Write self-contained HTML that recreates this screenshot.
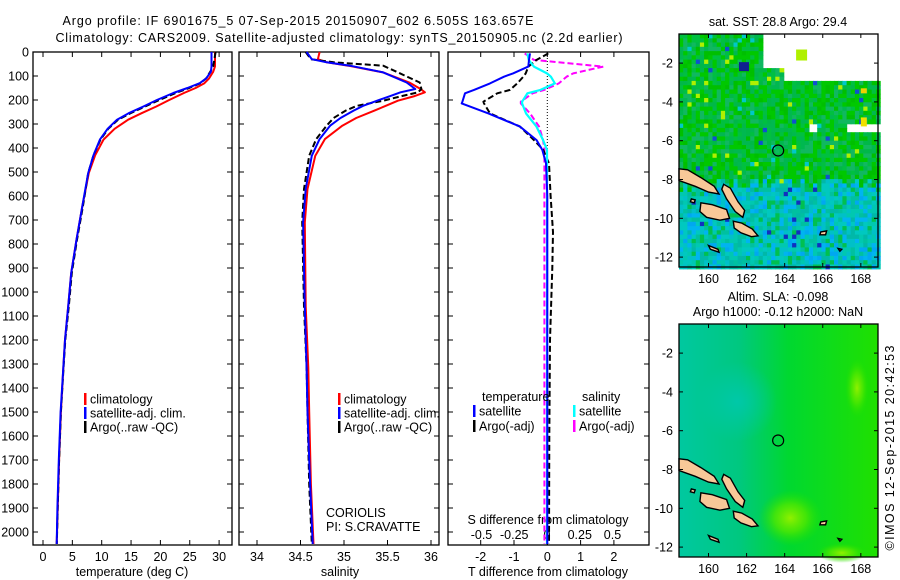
<!DOCTYPE html>
<html><head><meta charset="utf-8">
<style>
html,body{margin:0;padding:0;background:#fff;}
svg{display:block;font-family:"Liberation Sans",sans-serif;}
text{font-size:12.5px;fill:#000;}
</style></head>
<body>
<svg id="fig" width="900" height="580" viewBox="0 0 900 580">
<text x="298" y="25" text-anchor="middle" textLength="471">Argo profile: IF 6901675_5 07-Sep-2015 20150907_602 6.505S 163.657E</text>
<text x="339" y="42" text-anchor="middle" textLength="567">Climatology: CARS2009. Satellite-adjusted climatology: synTS_20150905.nc (2.2d earlier)</text>
<g id="p1"></g>
<g id="p2"></g>
<g id="p3"></g>
<g id="m1"></g>
<g id="m2"></g>
<text x="0" y="0" text-anchor="middle" font-size="13" textLength="205" transform="translate(894,448) rotate(-90)">©IMOS 12-Sep-2015 20:42:53</text>
</svg>
<script>
// ---------- data ----------
const tDepth   = [0, 60, 82, 110, 130, 150, 171, 200, 227, 255, 282, 320, 365, 430, 504, 643, 782, 921, 1060, 1199, 1317, 1500, 1700, 1900, 2050];
const tClim    = [29.3, 29.3, 29.0, 28.3, 27.5, 26.0, 24.0, 21.5, 19.3, 16.8, 14.5, 12.2, 10.3, 8.9, 7.8, 6.7, 5.7, 4.8, 4.3, 3.75, 3.46, 3.05, 2.75, 2.5, 2.33];
const tSat     = [28.7, 28.7, 28.6, 27.8, 26.7, 24.6, 22.2, 19.4, 17.1, 14.6, 12.6, 11.0, 9.7, 8.6, 7.7, 6.7, 5.7, 4.8, 4.3, 3.75, 3.46, 3.0, 2.7, 2.45, 2.33];
const tArgo    = [29.4, 29.0, 28.5, 27.8, 26.8, 24.9, 22.6, 19.8, 17.4, 14.9, 12.8, 11.1, 9.8, 8.6, 7.7, 6.8, 5.8, 4.9, 4.4, 3.8, 3.5, 3.05, 2.75, 2.5, 2.35];
const sDepth   = [0, 30, 43, 57, 85, 127, 154, 168, 185, 203, 224, 244, 275, 307, 363, 432, 571, 710, 1060, 1317, 1500, 1800, 2050];
const sClim    = [34.72, 34.70, 34.80, 35.05, 35.45, 35.75, 35.88, 35.93, 35.80, 35.62, 35.48, 35.35, 35.14, 34.98, 34.78, 34.67, 34.58, 34.55, 34.56, 34.59, 34.60, 34.62, 34.65];
const sSat     = [34.57, 34.63, 34.80, 35.07, 35.45, 35.72, 35.82, 35.65, 35.52, 35.38, 35.22, 35.11, 34.96, 34.84, 34.72, 34.63, 34.56, 34.53, 34.55, 34.57, 34.58, 34.61, 34.64];
const sArgo    = [34.56, 34.62, 34.88, 35.45, 35.62, 35.87, 35.89, 35.85, 35.65, 35.45, 35.15, 35.02, 34.88, 34.80, 34.68, 34.60, 34.54, 34.52, 34.54, 34.57, 34.58, 34.60, 34.63];
const dDepth   = [6, 33, 61, 89, 103, 131, 158, 172, 207, 214, 256, 311, 367, 408, 464, 600, 750, 900, 1200, 1600, 2050];
const dTSat    = [-0.52, -0.55, -0.57, -1.03, -1.3, -1.72, -2.2, -2.47, -2.55, -2.57, -1.77, -0.82, -0.32, -0.15, -0.04, 0.0, 0.0, 0.0, 0.0, 0.0, 0.0];
const dTArgo   = [0.03, -0.32, -0.57, -0.65, -0.72, -0.9, -1.12, -1.5, -1.92, -1.9, -1.72, -0.82, -0.4, -0.12, 0.05, 0.1, 0.17, 0.15, 0.08, 0.06, 0.05];
const dSSat    = [-0.15, -0.14, -0.1, 0.0, 0.03, 0.06, -0.05, -0.15, -0.19, -0.19, -0.16, -0.08, -0.03, 0.0, 0.0, 0.0, 0.0, 0.0, 0.0, 0.0, 0.0];
const dSArgo   = [-0.17, -0.1, 0.43, 0.2, 0.15, 0.09, -0.02, -0.11, -0.2, -0.2, -0.13, -0.06, -0.03, -0.02, -0.02, -0.02, -0.02, -0.02, -0.02, -0.02, -0.02];
const depthTicks = [0,100,200,300,400,500,600,700,800,900,1000,1100,1200,1300,1400,1500,1600,1700,1800,1900,2000];
const tTicks   = [0,5,10,15,20,25,30];
const sTicks   = [34,34.5,35,35.5,36];
const sTickLabels = ['34','34.5','35','35.5','36'];
const dTTicks  = [-2,-1,0,1,2];
const dSTicks  = [-0.5,-0.25,0,0.25,0.5];
const dSTickLabels = ['-0.5','-0.25','0','0.25','0.5'];
const lonTicks = [160,162,164,166,168];
const latTicks = [-2,-4,-6,-8,-10,-12];
const argoLon = 163.657, argoLat = -6.505;

const NS='http://www.w3.org/2000/svg';
function el(tag, attrs, parent){const e=document.createElementNS(NS,tag);for(const k in attrs)e.setAttribute(k,attrs[k]);if(parent)parent.appendChild(e);return e;}
const Y0=52, PB=545;
const yD = d => Y0 + d*0.24;
const xT = t => 43 + t*5.87;
const xS = s => 257 + (s-34)*87;
const xDT = v => 547.3 + v*33.3;
const xDS = v => 547 + v*131;

function frame(g, x0, x1, name){
  const r=el('rect',{x:x0,y:Y0,width:x1-x0,height:PB-Y0,fill:'none',stroke:'#000','stroke-width':1.3},g);
  
  
  depthTicks.forEach(d=>{
    el('line',{x1:x0,x2:x0+5,y1:yD(d),y2:yD(d),stroke:'#000'},g);
    el('line',{x1:x1-5,x2:x1,y1:yD(d),y2:yD(d),stroke:'#000'},g);
  });
}
function poly(g, xs, ds, fx, color, dash, w, name){
  const pts = xs.map((v,i)=>fx(v).toFixed(1)+','+yD(ds[i]).toFixed(1)).join(' ');
  const p=el('polyline',{points:pts,fill:'none',stroke:color,'stroke-width':w||2,'stroke-linejoin':'round'},g);
  if(dash) p.setAttribute('stroke-dasharray',dash);
  
  
}
function txt(g, x, y, s, anchor, name, size){
  const t=el('text',{x:x,y:y,'text-anchor':anchor||'start'},g);
  if(size) t.setAttribute('font-size', size);
  t.textContent=s;
  
  
  return t;
}
function xticks(g, vals, labels, fx, name){
  vals.forEach((v,i)=>{
    const x=fx(v);
    el('line',{x1:x,x2:x,y1:PB-5,y2:PB,stroke:'#000'},g);
    el('line',{x1:x,x2:x,y1:Y0,y2:Y0+5,stroke:'#000'},g);
    txt(g, x, 561, labels[i], 'middle', name);
  });
}
function legend(g, x, y, color, label, name){
  const m=el('rect',{x:x,y:y-6,width:2.5,height:12,fill:color},g);
  
  
  txt(g, x+6, y+4.5, label, 'start', name);
}

// Panel 1
const p1=document.getElementById('p1');
frame(p1,33,232,'temperature-axes');
depthTicks.forEach(d=>txt(p1,29,yD(d)+4.5,String(d),'end','depth-tick-label'));
xticks(p1,tTicks,tTicks.map(String),xT,'temperature-tick-label');
poly(p1,tClim,tDepth,xT,'#ff0000',null,2,'temperature-climatology-line');
poly(p1,tArgo,tDepth,xT,'#000','6,3',2,'temperature-argo-line');
poly(p1,tSat,tDepth,xT,'#0000ff',null,2,'temperature-satellite-line');
txt(p1,132,576,'temperature (deg C)','middle','temperature-axis-title');
legend(p1,84,399,'#ff0000','climatology','legend-climatology');
legend(p1,84,413,'#0000ff','satellite-adj. clim.','legend-satellite');
legend(p1,84,427,'#000','Argo(..raw -QC)','legend-argo');

// Panel 2
const p2=document.getElementById('p2');
frame(p2,239,439,'salinity-axes');
xticks(p2,sTicks,sTickLabels,xS,'salinity-tick-label');
poly(p2,sClim,sDepth,xS,'#ff0000',null,2,'salinity-climatology-line');
poly(p2,sArgo,sDepth,xS,'#000','6,3',2,'salinity-argo-line');
poly(p2,sSat,sDepth,xS,'#0000ff',null,2,'salinity-satellite-line');
txt(p2,340,576,'salinity','middle','salinity-axis-title');
legend(p2,338,399,'#ff0000','climatology','legend-climatology-2');
legend(p2,338,413,'#0000ff','satellite-adj. clim.','legend-satellite-2');
legend(p2,338,427,'#000','Argo(..raw -QC)','legend-argo-2');
txt(p2,326,517,'CORIOLIS','start','data-centre-label');
txt(p2,326,531,'PI: S.CRAVATTE','start','pi-label');

// Panel 3
const p3=document.getElementById('p3');
frame(p3,448,649,'difference-axes');
xticks(p3,dTTicks,dTTicks.map(String),xDT,'t-difference-tick-label');
dSTicks.forEach((v,i)=>txt(p3,xDS(v),539,dSTickLabels[i],'middle','s-difference-tick-label'));
txt(p3,548,524,'S difference from climatology','middle','s-difference-axis-title');
txt(p3,548,576,'T difference from climatology','middle','t-difference-axis-title');
const zl=el('line',{x1:xDT(0),x2:xDT(0),y1:Y0,y2:PB,stroke:'#000','stroke-dasharray':'1,2'},p3);


poly(p3,dSArgo,dDepth,xDS,'#ff00ff','6,3',2,'s-argo-difference-line');
poly(p3,dTArgo,dDepth,xDT,'#000','6,3',2,'t-argo-difference-line');
poly(p3,dSSat,dDepth,xDS,'#00ffff',null,2.2,'s-satellite-difference-line');
poly(p3,dTSat,dDepth,xDT,'#0000ff',null,2,'t-satellite-difference-line');
txt(p3,482,401,'temperature','start','legend-temperature-heading');
txt(p3,582,401,'salinity','start','legend-salinity-heading');
legend(p3,473,411,'#0000ff','satellite','legend-t-satellite');
legend(p3,473,426,'#000','Argo(-adj)','legend-t-argo');
legend(p3,573,411,'#00ffff','satellite','legend-s-satellite');
legend(p3,573,426,'#ff00ff','Argo(-adj)','legend-s-argo');

// ---------- maps ----------
const LON0=158.45, LON1=168.8, LAT0=-0.5, LAT1=-12.5;
function mkMap(g, top){
  const bot = top + 233;
  const X = lon => 679 + (lon-LON0)*19.04;
  const Y = lat => top + (LAT0-lat)*19.4;
  return {X,Y,top,bot};
}
function hash(i,j,s){let h=(i*374761393+j*668265263+s*97)|0;h=(h^(h>>>13))*1274126177;h=h^(h>>>16);return ((h>>>0)%1000)/1000;}
const islands = [
  [[158.45,-7.45],[158.9,-7.5],[159.6,-7.9],[160.3,-8.35],[160.55,-8.75],[160.0,-8.65],[159.3,-8.35],[158.45,-8.05]],
  [[160.8,-8.25],[161.15,-8.45],[161.55,-9.15],[161.9,-9.6],[161.8,-9.95],[161.4,-9.65],[160.95,-9.0],[160.7,-8.5]],
  [[159.6,-9.2],[160.2,-9.3],[160.95,-9.55],[161.1,-10.0],[160.6,-10.1],[159.9,-9.95],[159.55,-9.65]],
  [[161.3,-10.15],[161.75,-10.25],[162.3,-10.55],[162.6,-10.9],[162.25,-10.95],[161.7,-10.75],[161.35,-10.5]],
  [[160.0,-11.4],[160.5,-11.6],[160.55,-11.75],[160.1,-11.6]],
  [[165.9,-10.7],[166.2,-10.65],[166.15,-10.85],[165.85,-10.85]],
  [[166.8,-11.55],[167.0,-11.6],[166.9,-11.7]],
  [[159.1,-9.0],[159.3,-9.05],[159.25,-9.2],[159.05,-9.15]]
];
function drawIslands(g,m){
  islands.forEach(poly=>{
    const p=el('polygon',{points:poly.map(q=>m.X(q[0]).toFixed(1)+','+m.Y(q[1]).toFixed(1)).join(' '),fill:'#f8c898',stroke:'#000','stroke-width':1.4},g);
    
    
  });
}
function mapAxes(g,m,name){
  const r=el('rect',{x:679,y:m.top,width:199,height:233,fill:'none',stroke:'#000','stroke-width':1.3},g);
  
  
  lonTicks.forEach(l=>{const x=m.X(l);
    el('line',{x1:x,x2:x,y1:m.bot-4,y2:m.bot,stroke:'#000'},g);
    el('line',{x1:x,x2:x,y1:m.top,y2:m.top+4,stroke:'#000'},g);
    txt(g,x,m.bot+16,String(l),'middle','longitude-tick-label');});
  latTicks.forEach(l=>{const y=m.Y(l);
    el('line',{x1:679,x2:683,y1:y,y2:y,stroke:'#000'},g);
    el('line',{x1:874,x2:878,y1:y,y2:y,stroke:'#000'},g);
    txt(g,673,y+4.5,String(l),'end','latitude-tick-label');});
  const c=el('circle',{cx:m.X(argoLon),cy:m.Y(argoLat),r:5.5,fill:'none',stroke:'#000','stroke-width':1.2},g);
  
  
}
// Map 1 (SST)
const m1g=document.getElementById('m1');
const m1=mkMap(m1g,34);
const step=0.22;
const greens=['#00c800','#00b850','#00c800','#10b860','#00c040','#00bf00','#00b848'];
const blues=['#00c8a0','#00c0c8','#00b4f0','#00c8b0','#00c8c0','#00b8a8','#00c0a0','#00a8f0'];
for(let i=0;i*step<LON1-LON0;i++){
  for(let j=0;j*step<LAT0-LAT1;j++){
    const lon=LON0+i*step, lat=LAT0-j*step;
    if((lat>-2.1&&lon>162.7)||(lat>-2.9&&lon>163.8&&!(lon>165.7&&lon<166.6&&lat>-1.2))||(lon>167.2&&lat>-5.5&&lat<-5.1)||(lon>165.2&&lon<165.6&&lat>-5.4&&lat<-5.1)) continue;
    const h=hash(i,j,1);
    let c;
    const edge=-7.8-0.8*hash(i,0,3)+ (lon-158.5)*0.02;
    if(lat>edge){ c=greens[Math.floor(h*greens.length)]; if(h>0.975)c='#b0f000'; else if(h>0.96)c='#00c8c8'; else if(h<0.008)c='#1050d0';}
    else { c=blues[Math.floor(h*blues.length)]; if(h<0.12)c='#00c050'; if(h>0.985)c='#1030c0';}
    el('rect',{x:m1.X(lon).toFixed(1),y:m1.Y(lat).toFixed(1),width:(step*19.04+0.6).toFixed(1),height:(step*19.4+0.6).toFixed(1),fill:c},m1g);
  }
}
el('rect',{x:m1.X(164.6),y:m1.Y(-1.3),width:11,height:11,fill:'#b0f000'},m1g);
el('rect',{x:m1.X(161.6),y:m1.Y(-1.95),width:10,height:9,fill:'#102090'},m1g);
el('rect',{x:m1.X(168.0),y:m1.Y(-3.3),width:6,height:5,fill:'#f0d000'},m1g);
el('rect',{x:m1.X(168.0),y:m1.Y(-4.8),width:6,height:9,fill:'#f0e000'},m1g);
drawIslands(m1g,m1);
mapAxes(m1g,m1,'sst-map-axes');
txt(m1g,778,26,'sat. SST: 28.8 Argo: 29.4','middle','sst-map-title');

// Map 2 (SLA)
const m2g=document.getElementById('m2');
const m2=mkMap(m2g,324);
const defs=el('defs',{},m2g);
const lg=el('linearGradient',{id:'slaG',x1:0,y1:0,x2:1,y2:0},defs);
el('stop',{offset:'0','stop-color':'#00c8a0'},lg);
el('stop',{offset:'0.3','stop-color':'#00c880'},lg);
el('stop',{offset:'0.55','stop-color':'#00d830'},lg);
el('stop',{offset:'1','stop-color':'#20e000'},lg);
const rg=el('radialGradient',{id:'blobG'},defs);
el('stop',{offset:'0','stop-color':'#90f000'},rg);
el('stop',{offset:'0.5','stop-color':'#50e800','stop-opacity':'0.8'},rg);
el('stop',{offset:'1','stop-color':'#20e000','stop-opacity':'0'},rg);
const rg2=el('radialGradient',{id:'tealG'},defs);
el('stop',{offset:'0','stop-color':'#00c8a8'},rg2);
el('stop',{offset:'1','stop-color':'#00c8a8','stop-opacity':'0'},rg2);
const bg=el('rect',{x:679,y:324,width:199,height:233,fill:'url(#slaG)'},m2g);


el('ellipse',{cx:m2.X(161.5),cy:m2.Y(-4.5),rx:40,ry:40,fill:'url(#tealG)'},m2g);
el('ellipse',{cx:m2.X(164.3),cy:m2.Y(-10.5),rx:32,ry:28,fill:'url(#blobG)'},m2g);
el('ellipse',{cx:m2.X(167.8),cy:m2.Y(-3.8),rx:12,ry:30,fill:'url(#blobG)'},m2g);
el('ellipse',{cx:m2.X(167),cy:m2.Y(-12.3),rx:25,ry:10,fill:'url(#blobG)'},m2g);
drawIslands(m2g,m2);
mapAxes(m2g,m2,'sla-map-axes');
txt(m2g,778,301,'Altim. SLA: -0.098','middle','sla-map-title');
txt(m2g,778,316,'Argo h1000: -0.12 h2000: NaN','middle','sla-map-subtitle');
</script>
</body></html>
